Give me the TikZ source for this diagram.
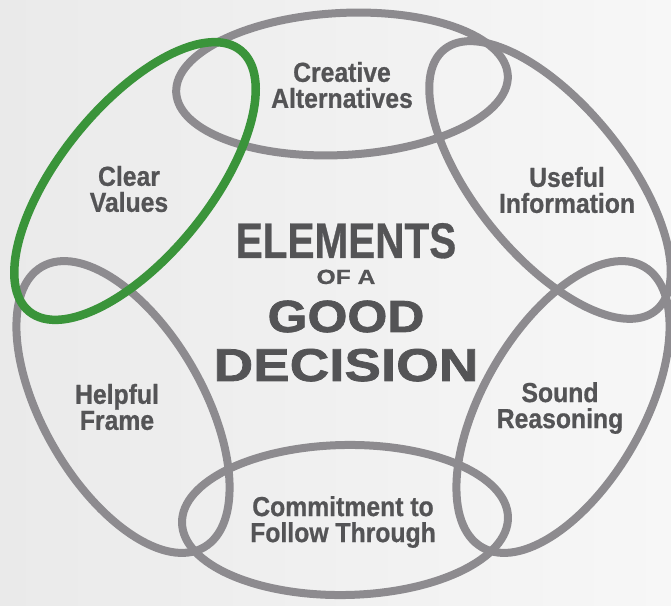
\documentclass[tikz,border=0pt]{standalone}
\usepackage{fontspec}
\setmainfont{Liberation Sans}
\newfontfamily\labfont[FakeStretch=0.9,FakeBold=0.7]{Liberation Sans}
\newfontfamily\elemfont[FakeStretch=0.81,FakeBold=0.6]{Liberation Sans}
\newfontfamily\goodfont[FakeStretch=1.14,FakeBold=1.6]{Liberation Sans}
\newfontfamily\decfont[FakeStretch=1.19,FakeBold=1.6]{Liberation Sans}
\newfontfamily\offont[FakeStretch=1.2,FakeBold=0.6]{Liberation Sans}
\definecolor{ringgray}{RGB}{141,139,143}
\definecolor{ringgreen}{RGB}{58,148,58}
\definecolor{txt}{RGB}{84,84,86}
\definecolor{bgl}{RGB}{234,234,234}
\definecolor{bgr}{RGB}{247,247,247}
\begin{document}
\begin{tikzpicture}[x=1pt,y=1pt,
  ring/.style={draw=ringgray, line width=8pt},
  greenring/.style={draw=ringgreen, line width=8.5pt},
  lab/.style={text=txt, align=center, font=\labfont\bfseries\fontsize{27.5}{26}\selectfont, inner sep=0pt},
  title/.style={text=txt, inner sep=0pt, anchor=base}]
\useasboundingbox (0,0) rectangle (671,605);
\shade[left color=bgl, right color=bgr] (0,0) rectangle (671,605);
% ring of ellipses
\draw[ring, rotate around={3:(342,521)}] (342,521) ellipse [x radius=166, y radius=71];
\draw[ring, rotate around={-51:(550,425)}] (550,425) ellipse [x radius=168, y radius=75];
\draw[ring, rotate around={60:(563,198)}] (563,198) ellipse [x radius=162, y radius=80];
\draw[ring, rotate around={1:(345,85)}] (345,85) ellipse [x radius=163, y radius=75];
\draw[ring, rotate around={-60:(123,198)}] (123,198) ellipse [x radius=162, y radius=80];
\draw[greenring, rotate around={51:(135,424)}] (135,424) ellipse [x radius=168, y radius=75];
% labels
\node[lab] (creative) at (342,520) {Creative\\Alternatives};
\node[lab] (useful) at (567,415) {Useful\\Information};
\node[lab] (clear) at (129,416) {Clear\\Values};
\node[lab] (helpful) at (117,198) {Helpful\\Frame};
\node[lab] (sound) at (560,197) {Sound\\Reasoning};
\node[lab] (commit) at (343,83) {Commitment to\\Follow Through};
% title
\node[title, font=\elemfont\bfseries\fontsize{50}{50}\selectfont] (elements) at (346,347) {ELEMENTS};
\node[title, font=\offont\bfseries\fontsize{20.5}{20.5}\selectfont] (ofa) at (346,321) {OF A};
\node[title, font=\goodfont\bfseries\fontsize{45}{45}\selectfont] (good) at (346,273) {GOOD};
\node[title, font=\decfont\bfseries\fontsize{46}{46}\selectfont] (decision) at (346,224) {DECISION};
\end{tikzpicture}
\end{document}
